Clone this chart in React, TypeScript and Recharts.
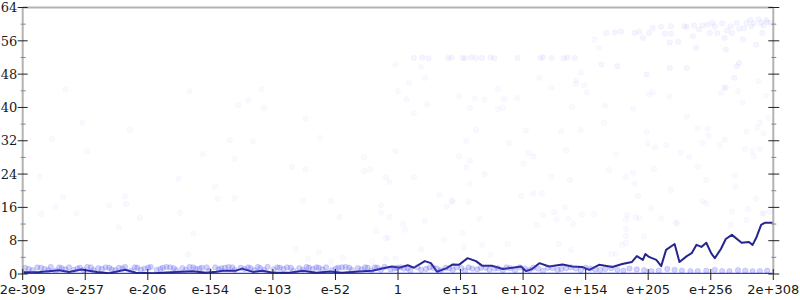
import React from 'react';
import { ComposedChart, Line, Scatter, XAxis, YAxis, ReferenceLine } from 'recharts';

// x = decimal exponent of the input, y = error
const xTicks = [-308, -256.67, -205.33, -154, -102.67, -51.33, 0, 51.33, 102.67, 154, 205.33, 256.67, 308];
const xLabels = ['2e-309', 'e-257', 'e-206', 'e-154', 'e-103', 'e-52', '1', 'e+51', 'e+102', 'e+154', 'e+205', 'e+256', '2e+308'];
const yTicks = [0, 4, 8, 12, 16, 20, 24, 28, 32, 36, 40, 44, 48, 52, 56, 60, 64];

// running average
const lineX = [-308, -294, -278, -270, -260, -247, -237, -224, -215, -201, -182, -169, -157, -149, -144, -133, -128, -119, -111, -103, -89, -78, -67, -56, -46, -32, -21, -13, -5, 1, 8, 13, 22, 27, 32, 40, 45, 50, 57, 64, 69, 77, 86, 94, 101, 105, 110, 116, 124, 135, 143, 151, 157, 165, 176, 184, 192, 196, 201, 203, 206, 212, 216, 220, 227, 231, 237, 241, 245, 249, 253, 257, 260, 265, 269, 274, 282, 288, 291, 294, 298, 301, 307, 308];
const lineErr = [0.4, 0.5, 0.9, 0.5, 1.1, 0.5, 0.2, 1.0, 0.3, 0.2, 0.5, 0.65, 0.3, 0.55, 0.8, 0.8, 1.3, 0.5, 0.8, 0.3, 0.3, 0.8, 0.3, 0.6, 0.3, 0.6, 0.8, 1.3, 1.8, 1.5, 2.1, 1.5, 3.1, 2.6, 0.55, 1.4, 2.3, 2.2, 3.8, 3.1, 2.0, 2.0, 1.2, 1.5, 1.8, 0.7, 1.2, 2.6, 1.8, 2.3, 1.8, 1.7, 1.0, 2.2, 1.7, 2.4, 2.9, 4.3, 3.4, 4.8, 4.1, 3.4, 1.9, 5.8, 7.2, 2.9, 4.3, 5.0, 7.0, 6.5, 7.5, 5.0, 3.8, 6.0, 8.4, 9.4, 7.5, 7.7, 7.0, 8.7, 11.8, 12.3, 12.3, 12.2];

// exact results
const zeroX = [-308, 308];
const zeroErr = [0, 0];

const lowBand = [[-306, 1.5], [-300, 0.9], [-296, 1.6], [-290, 1.2], [-285, 1.7], [-281, 0.8], [-276, 1.4], [-270, 1.6], [-266, 1.0], [-261, 1.5], [-255, 1.7], [-250, 0.9], [-246, 1.4], [-240, 1.6], [-235, 1.1], [-229, 1.5], [-224, 1.7], [-219, 0.8], [-214, 1.5], [-208, 1.3], [-203, 1.7], [-198, 1.0], [-193, 1.5], [-187, 1.6], [-182, 0.9], [-177, 1.4], [-171, 1.7], [-166, 1.2], [-161, 1.5], [-155, 0.8], [-150, 1.6], [-145, 1.4], [-139, 1.7], [-134, 1.0], [-129, 1.5], [-123, 1.6], [-118, 0.9], [-113, 1.4], [-107, 1.7], [-102, 1.1], [-97, 1.5], [-91, 1.6], [-86, 0.8], [-81, 1.4], [-75, 1.7], [-70, 1.2], [-65, 1.5], [-59, 1.6], [-54, 0.9], [-49, 1.5], [-43, 1.7], [-38, 1.0], [-33, 1.4], [-27, 1.6], [-22, 0.8], [-17, 1.5], [-11, 1.7], [-6, 1.1], [-1, 1.5], [5, 1.3], [10, 0.8], [16, 1.6], [23, 1.2], [29, 1.5], [35, 0.9], [42, 1.4], [48, 1.6], [55, 0.8], [61, 1.3], [68, 1.5], [75, 1.0], [82, 1.4], [89, 1.6], [96, 0.9], [104, 1.3], [111, 1.5], [119, 0.8], [127, 1.4], [134, 1.2], [142, 1.6], [150, 0.9], [158, 1.3], [166, 1.0], [175, 1.4], [185, 0.8], [196, 1.1], [208, 0.7], [221, 1.2], [233, 0.8], [246, 0.7], [260, 1.0], [272, 0.7], [285, 0.8], [297, 0.7]];
const lowBand2 = [[-303, 1.2], [-293, 1.5], [-287, 0.9], [-278, 1.6], [-273, 1.1], [-263, 1.3], [-258, 0.9], [-252, 1.6], [-243, 1.2], [-237, 1.5], [-232, 0.9], [-226, 1.3], [-216, 1.6], [-211, 1.0], [-205, 1.5], [-195, 1.2], [-190, 1.7], [-184, 1.4], [-174, 1.0], [-168, 1.6], [-163, 1.3], [-157, 1.6], [-147, 1.1], [-142, 1.5], [-136, 1.6], [-126, 1.2], [-121, 1.4], [-115, 1.7], [-110, 1.0], [-99, 1.6], [-94, 1.2], [-88, 1.5], [-78, 1.0], [-73, 1.5], [-67, 1.6], [-62, 1.1], [-51, 1.3], [-46, 1.6], [-40, 1.5], [-30, 1.1], [-25, 1.5], [-19, 1.6], [-14, 1.0], [-3, 1.3], [2, 1.6], [8, 1.4], [19, 1.0], [26, 1.6], [32, 1.3], [39, 1.5], [45, 1.0], [52, 1.4], [58, 1.6], [65, 1.1], [72, 1.5], [79, 1.3], [86, 0.9], [92, 1.4], [100, 1.6], [108, 1.0], [115, 1.3], [123, 1.5], [131, 1.0], [138, 1.4], [146, 1.3], [154, 1.5], [162, 1.1], [170, 1.2], [180, 1.0], [190, 1.3], [202, 0.9], [214, 0.8], [227, 1.0], [240, 0.7], [253, 0.8], [266, 0.7], [279, 0.9], [291, 0.7], [303, 0.8]];

const band52 = [[13, 51.9], [20, 52.0], [25, 51.8], [41, 51.9], [44, 52.0], [53, 51.9], [55, 51.8], [60, 52.0], [64, 51.9], [69, 51.9], [76, 52.0], [79, 51.8], [98, 51.9], [117, 51.9], [119, 52.0], [126, 51.9], [136, 51.8], [139, 52.0], [145, 51.9]];

const band59 = [[171, 57.9], [178, 58.0], [183, 58.2], [194, 57.9], [198, 58.2], [201, 56.7], [206, 57.9], [209, 59.1], [216, 59.4], [219, 57.7], [224, 59.5], [224, 57.7], [223, 55.6], [230, 55.8], [235, 59.5], [237, 59.4], [242, 57.1], [243, 59.7], [247, 58.7], [250, 59.7], [254, 59.9], [256, 57.9], [245, 54.3], [260, 59.5], [262, 57.9], [266, 60.2], [268, 56.7], [269, 53.9], [273, 59.5], [274, 57.9], [278, 60.3], [280, 58.9], [283, 56.3], [286, 60.3], [290, 59.5], [292, 60.2], [294, 55.1], [298, 60.3], [300, 59.7], [303, 60.5], [306, 60.3], [299, 57.9], [280, 50.7], [278, 49.9], [223, 49.5], [237, 49.5], [180, 49.9], [167, 50.3], [204, 47.9], [276, 47.1], [268, 44.7], [289, 61.0], [296, 61.2], [302, 61.0], [284, 59.0], [270, 58.5], [258, 60.3]];

const sparsePts = [[-273, 44.3], [-171, 43.9], [-112, 44.4], [-123, 41.7], [-131, 40.6], [-110, 39.8], [0, 43.9], [-259, 36.3], [-76, 37.3], [-220, 34.6], [-284, 32.4], [-138, 32.1], [-119, 31.8], [-64, 32.7], [-255, 29.4], [-160, 28.8], [-134, 27.7], [-2, 29.5], [-28, 28.0], [-87, 25.7], [-76, 25.1], [-28, 24.7], [-23, 25.1], [-294, 23.4], [-180, 22.9], [-10, 23.3], [-7, 22.1], [-150, 21.0], [-275, 18.5], [-224, 18.6], [-148, 18.0], [-134, 18.2], [-78, 17.7], [-55, 17.5], [-281, 16.2], [-237, 16.4], [-223, 16.8], [-14, 16.5], [-293, 14.4], [-264, 14.5], [-179, 14.7], [-212, 13.5], [-48, 13.7], [-14, 14.7], [-7, 13.7], [-229, 11.2], [-18, 10.4], [-168, 9.7], [-10, 8.6], [-8, 8.7], [-84, 6.0], [-65, 5.2], [-172, 4.7], [-45, 3.9], [-74, 3.6], [-10, 3.6], [-55, 3.0], [-21, 3.0], [-2, 3.8],
  [9, 45.9], [50, 42.7], [63, 42.2], [71, 41.9], [82, 44.5], [87, 42.1], [98, 42.3], [126, 44.7], [146, 45.7], [153, 45.3], [155, 43.6], [7, 41.9], [24, 40.7], [13, 38.7], [59, 39.9], [82, 39.6], [86, 39.9], [143, 40.1], [170, 40.4], [193, 39.7], [209, 43.7], [206, 43.1], [223, 42.7], [265, 43.5], [269, 44.8], [279, 43.9], [283, 41.2], [296, 46.3], [302, 42.8], [304, 37.5], [297, 36.4], [295, 35.2], [300, 33.7], [286, 34.2], [169, 36.4], [150, 34.6], [134, 34.2], [105, 34.5], [64, 34.6], [56, 32.0], [91, 31.5], [204, 34.2], [237, 37.8], [246, 35.0], [254, 34.9], [255, 33.2], [250, 31.4], [268, 32.2], [264, 30.9], [205, 31.3], [211, 30.4], [220, 31.0], [285, 30.0], [291, 29.5], [297, 30.0], [292, 28.2], [138, 29.7], [107, 29.0], [111, 28.2], [50, 28.2], [59, 27.2], [56, 25.6], [103, 26.5], [179, 28.8], [232, 29.2], [239, 28.1], [246, 25.7], [210, 25.3], [173, 25.0], [193, 24.3], [187, 23.3], [276, 23.6], [277, 21.0], [253, 22.6], [224, 20.2], [194, 21.6], [197, 18.8], [208, 15.8], [216, 13.4], [229, 12.2], [253, 17.0], [274, 15.0], [287, 15.6], [294, 18.1], [300, 14.6], [273, 11.8], [13, 23.3], [71, 24.0], [59, 21.6], [126, 23.4], [141, 22.6], [34, 19.0], [45, 17.6], [58, 17.3], [40, 16.2], [101, 18.7], [111, 19.3], [118, 19.3], [137, 16.0], [119, 14.2], [128, 14.8], [130, 13.1], [140, 13.3], [144, 12.0], [151, 14.3], [161, 14.4], [67, 13.4], [22, 12.8], [4, 12.0], [6, 10.6], [53, 9.9], [38, 8.2], [187, 13.0], [188, 14.2], [198, 13.4], [187, 10.8], [187, 9.2], [202, 9.0], [187, 7.5], [184, 7.0], [132, 7.2], [142, 5.8], [90, 7.2], [69, 7.0], [54, 6.4], [19, 5.9], [76, 4.6], [175, 4.8], [179, 4.8], [286, 13.0], [250, 17.5], [114, 11.8], [195, 13.6], [228, 12.3], [305, 14.9], [299, 14.5], [44, 17.4],
  [-2, 50.3], [19, 49.7], [22, 47.1], [116, 47.1], [150, 48.4], [146, 46.5], [161, 56.3], [165, 54.3]];

const toXY = (xs: number[], ys: number[]) => xs.map((x, i) => ({ x, y: ys[i] }));
const pairs = (pts: number[][]) => pts.map(([x, y]) => ({ x, y }));

const lineData = toXY(lineX, lineErr);
const zeroData = toXY(zeroX, zeroErr);

const Dot = (fill: string, opacity: number) => (p: any) => (
  <circle cx={p.cx} cy={p.cy} r={2.7} fill={fill} fillOpacity={opacity} stroke={fill} strokeOpacity={opacity * 1.3} strokeWidth={0.6} />
);

const LeftTick = ({ x, y, payload }: any) => {
  const major = payload.value % 8 === 0;
  return (
    <g>
      <line x1={major ? x - 5 : x - 2} x2={major ? x + 5 : x + 3} y1={y} y2={y} stroke={major ? '#222' : '#888'} strokeWidth={1} />
      {major && (
        <text x={x - 5.5} y={y + 4.7} textAnchor="end" fontFamily="DejaVu Serif" fontSize={13} fill="#1a1a1a">
          {payload.value}
        </text>
      )}
    </g>
  );
};

const RightTick = ({ x, y, payload }: any) => {
  const major = payload.value % 8 === 0;
  return (
    <line x1={major ? x - 5 : x - 2} x2={major ? x + 6 : x + 3} y1={y} y2={y} stroke={major ? '#222' : '#888'} strokeWidth={1} />
  );
};

const BottomTick = ({ x, y, index }: any) => (
  <g>
    <line x1={x} x2={x} y1={y - 5} y2={y + 6} stroke="#222" strokeWidth={1} />
    <text x={x} y={y + 19.5} textAnchor="middle" fontFamily="DejaVu Sans" fontSize={13} fill="#1a1a1a">
      {xLabels[index]}
    </text>
  </g>
);

export default function App() {
  return (
    <div style={{ position: 'absolute', left: 0, top: 0, width: 800, height: 300, background: '#fff' }}>
      <ComposedChart width={800} height={300} margin={{ top: 7.5, right: 0, bottom: 0, left: 0 }}>
        <XAxis
          type="number"
          dataKey="x"
          domain={[-308, 308]}
          ticks={xTicks}
          interval={0}
          height={26}
          tickSize={0}
          tickMargin={0}
          axisLine={false}
          tickLine={false}
          tick={(p: any) => <BottomTick {...p} />}
          allowDataOverflow
        />
        <YAxis
          yAxisId="l"
          type="number"
          dataKey="y"
          domain={[0, 64]}
          ticks={yTicks}
          interval={0}
          width={22.7}
          tickSize={0}
          tickMargin={0}
          axisLine={{ stroke: '#b3b3b3', strokeWidth: 2 }}
          tickLine={false}
          tick={(p: any) => <LeftTick {...p} />}
          allowDataOverflow
        />
        <YAxis
          yAxisId="r"
          orientation="right"
          type="number"
          dataKey="y"
          domain={[0, 64]}
          ticks={yTicks}
          interval={0}
          width={26.7}
          tickSize={0}
          tickMargin={0}
          axisLine={{ stroke: '#b3b3b3', strokeWidth: 2 }}
          tickLine={false}
          tick={(p: any) => <RightTick {...p} />}
          allowDataOverflow
        />
        <ReferenceLine yAxisId="l" y={64} stroke="#b3b3b3" strokeWidth={2} />
        <Scatter yAxisId="l" data={pairs(sparsePts)} dataKey="y" shape={Dot('#5a5aff', 0.04)} isAnimationActive={false} />
        <Scatter yAxisId="l" data={pairs(band52)} dataKey="y" shape={Dot('#5a5aff', 0.06)} isAnimationActive={false} />
        <Scatter yAxisId="l" data={pairs(band59)} dataKey="y" shape={Dot('#5a5aff', 0.06)} isAnimationActive={false} />
        <Scatter yAxisId="l" data={pairs(lowBand)} dataKey="y" shape={Dot('#4a4af0', 0.24)} isAnimationActive={false} />
        <Scatter yAxisId="l" data={pairs(lowBand2)} dataKey="y" shape={Dot('#4a4af0', 0.24)} isAnimationActive={false} />
        <Line yAxisId="l" data={zeroData} dataKey="y" type="linear" stroke="#3535e6" strokeWidth={2.6} dot={false} isAnimationActive={false} />
        <Line yAxisId="l" data={lineData} dataKey="y" type="linear" stroke="#25258e" strokeWidth={2} dot={false} strokeLinejoin="round" isAnimationActive={false} />
      </ComposedChart>
    </div>
  );
}
